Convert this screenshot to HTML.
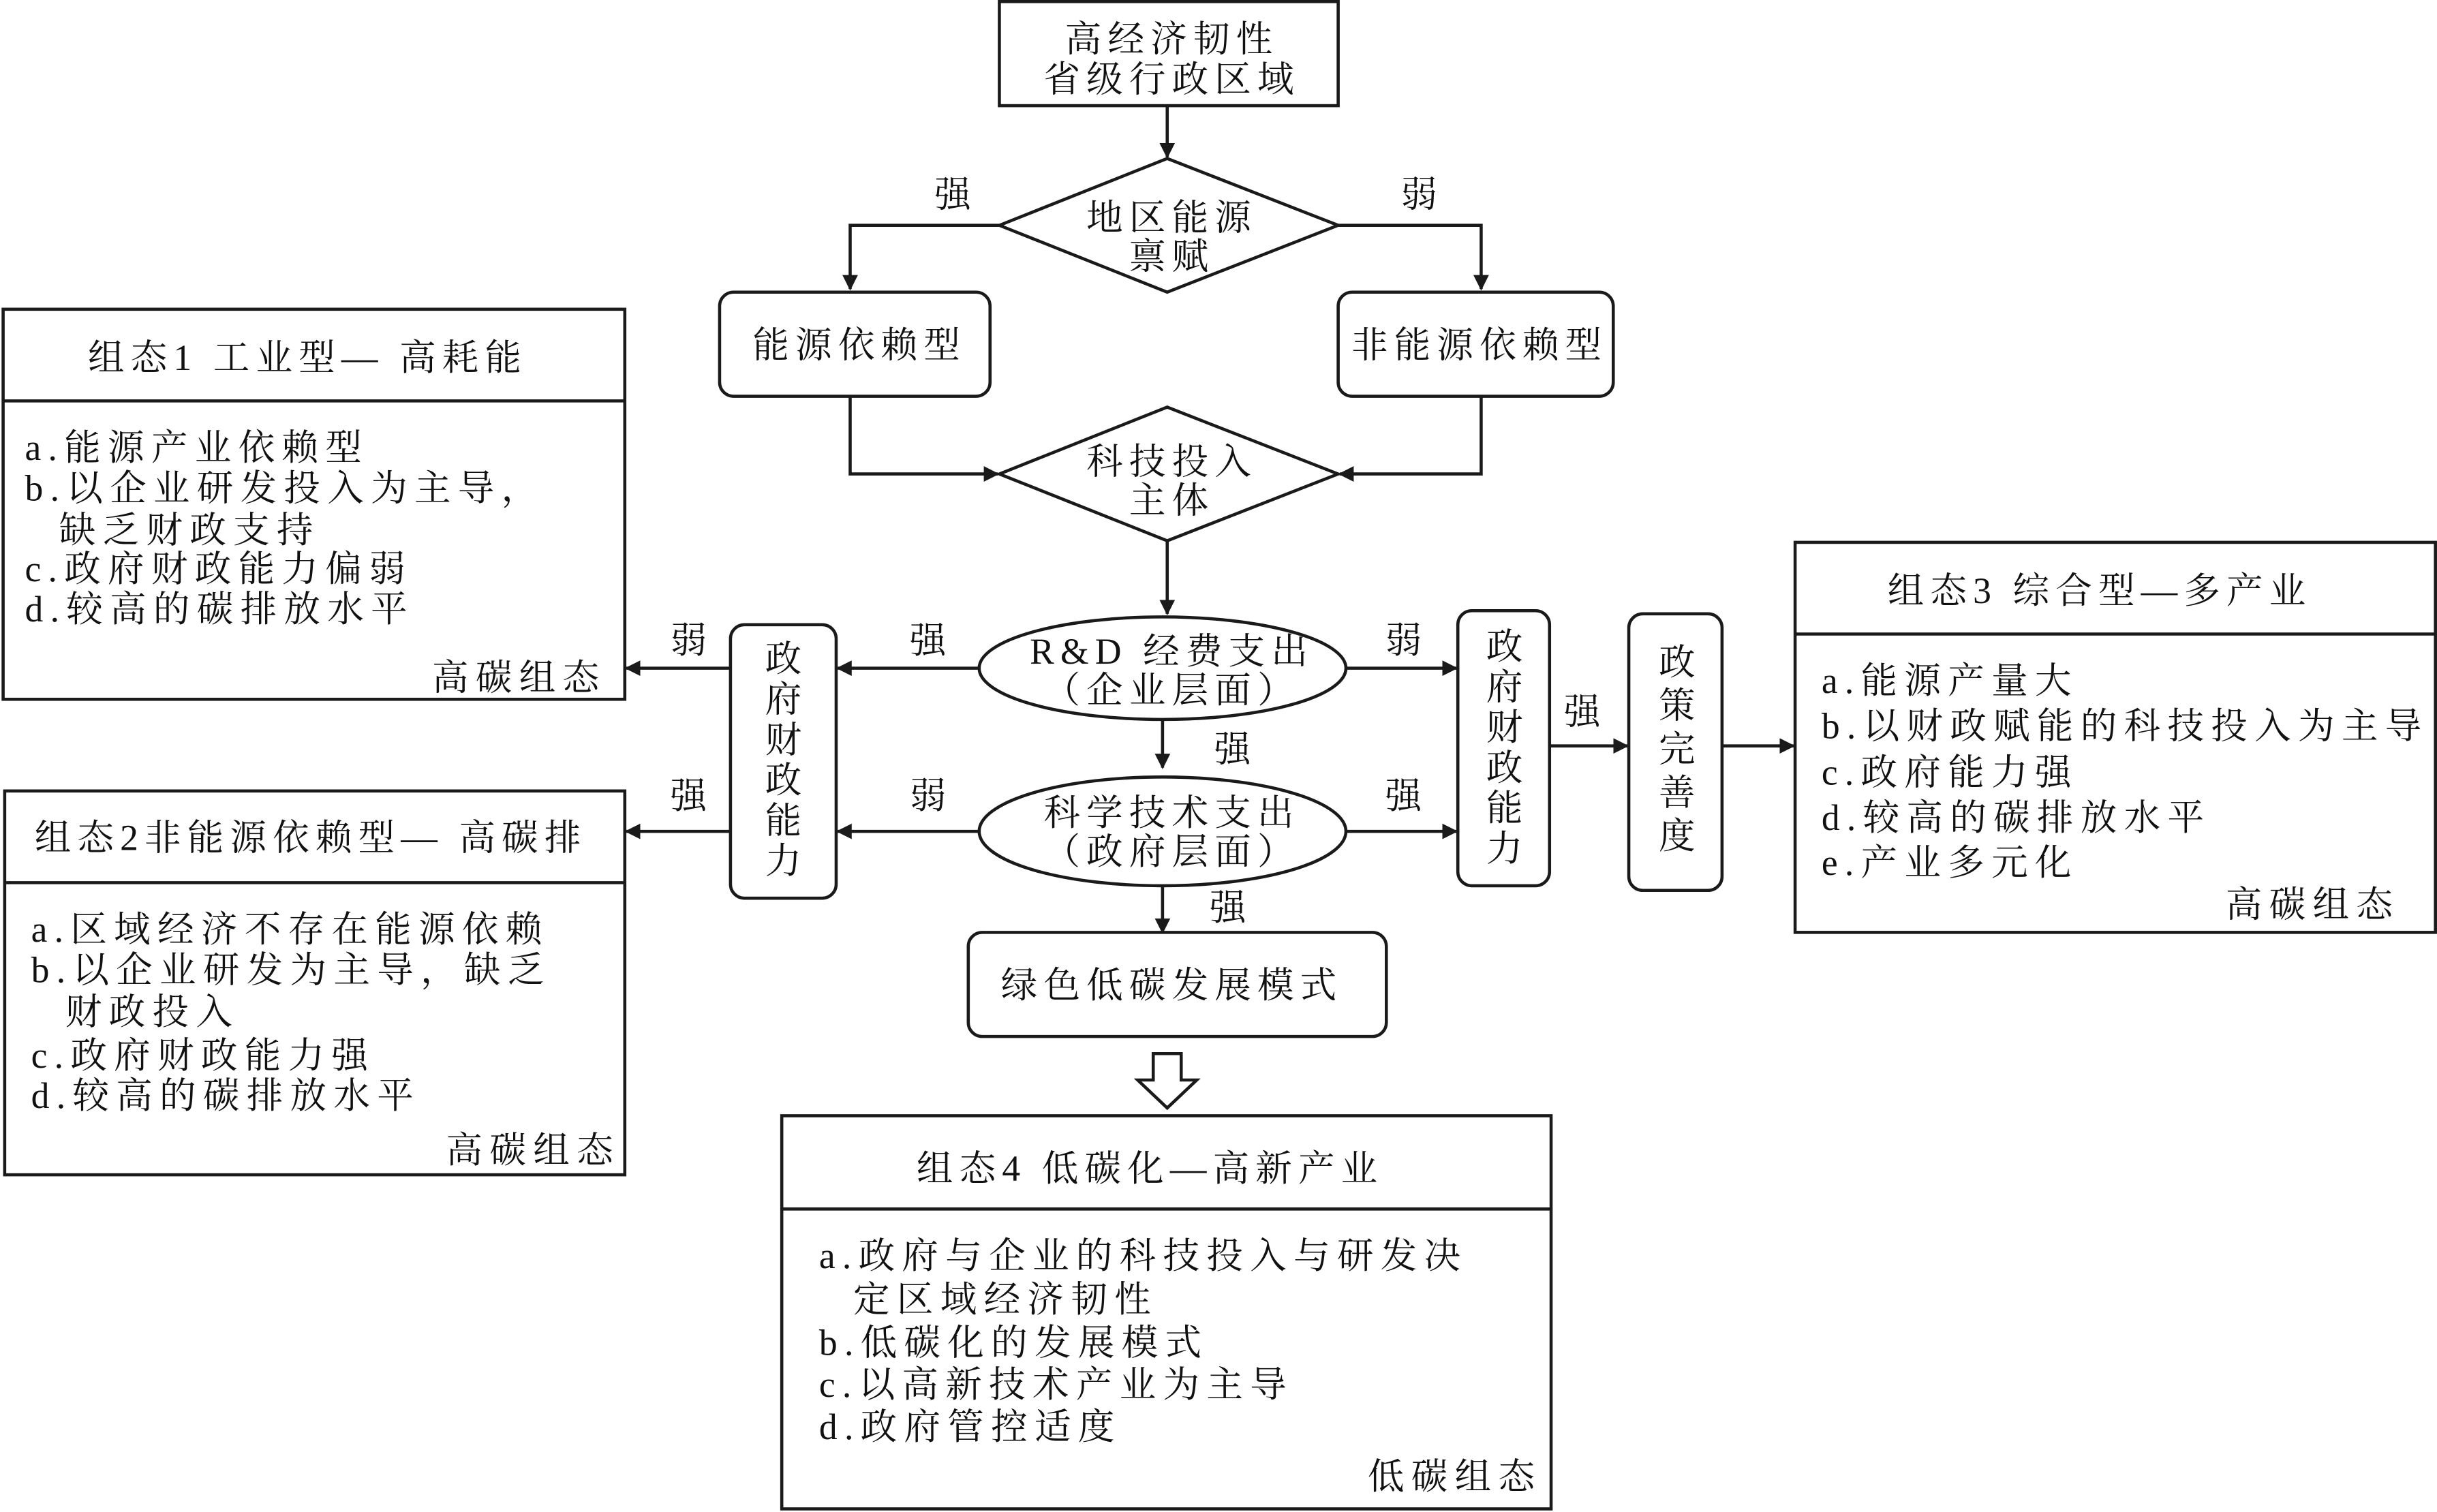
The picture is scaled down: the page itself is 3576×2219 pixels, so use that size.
<!DOCTYPE html>
<html><head><meta charset="utf-8"><style>
html,body{margin:0;padding:0;background:#fff;}
svg{display:block;}
text{font-family:"Liberation Serif","Noto Serif CJK SC",serif;font-size:23.5px;fill:#111;}
.b{fill:none;stroke:#1a1a1a;stroke-width:2;}
</style></head><body>
<svg width="3576" height="2219" viewBox="0 0 1568 973" xmlns="http://www.w3.org/2000/svg">
<defs><marker id="a" markerWidth="10" markerHeight="10" refX="9" refY="5" orient="auto" markerUnits="userSpaceOnUse"><path d="M0,0 L10,5 L0,10 z" fill="#1a1a1a"/></marker></defs>
<g class="b">
<rect x="643" y="1" width="218" height="67"/>
<line x1="751" y1="68" x2="751" y2="101" marker-end="url(#a)"/>
<polygon points="643,145 751,102 861,145 751,188"/>
<polyline points="643,145 547,145 547,186" marker-end="url(#a)"/>
<polyline points="861,145 953,145 953,186" marker-end="url(#a)"/>
<rect x="463" y="188" width="174" height="67" rx="9"/>
<rect x="861" y="188" width="177" height="67" rx="9"/>
<polyline points="547,255 547,305 642,305" marker-end="url(#a)"/>
<polyline points="953,255 953,305 862,305" marker-end="url(#a)"/>
<polygon points="643,305 751,262 861,305 751,348"/>
<line x1="751" y1="348" x2="751" y2="395" marker-end="url(#a)"/>
<ellipse cx="748" cy="430" rx="118" ry="33"/>
<line x1="748" y1="463" x2="748" y2="494" marker-end="url(#a)"/>
<ellipse cx="748" cy="535" rx="118" ry="35"/>
<line x1="748" y1="570" x2="748" y2="600" marker-end="url(#a)"/>
<rect x="623" y="600" width="269" height="67" rx="9"/>
<polygon points="742,678 760,678 760,695 770,695 751,713 732,695 742,695"/>
<rect x="503" y="718" width="495" height="253"/>
<line x1="503" y1="778" x2="998" y2="778"/>
<rect x="470" y="402" width="68" height="176" rx="9"/>
<line x1="630" y1="430" x2="539" y2="430" marker-end="url(#a)"/>
<line x1="630" y1="535" x2="539" y2="535" marker-end="url(#a)"/>
<line x1="470" y1="430" x2="403" y2="430" marker-end="url(#a)"/>
<line x1="470" y1="535" x2="403" y2="535" marker-end="url(#a)"/>
<rect x="938" y="393" width="59" height="177" rx="9"/>
<line x1="866" y1="430" x2="937" y2="430" marker-end="url(#a)"/>
<line x1="866" y1="535" x2="937" y2="535" marker-end="url(#a)"/>
<line x1="997" y1="480" x2="1047" y2="480" marker-end="url(#a)"/>
<rect x="1048" y="395" width="60" height="178" rx="9"/>
<line x1="1108" y1="480" x2="1154" y2="480" marker-end="url(#a)"/>
<rect x="1155" y="349" width="412" height="251"/>
<line x1="1155" y1="408" x2="1567" y2="408"/>
<rect x="2" y="199" width="400" height="251"/>
<line x1="2" y1="258" x2="402" y2="258"/>
<rect x="3" y="509" width="399" height="247"/>
<line x1="3" y1="568" x2="402" y2="568"/>
</g>
<g text-anchor="middle" letter-spacing="4">
<text x="754" y="33">高经济韧性</text>
<text x="754" y="59">省级行政区域</text>
<text x="754" y="148">地区能源</text>
<text x="754" y="173">禀赋</text>
<text x="615" y="133">强</text>
<text x="915" y="133">弱</text>
<text x="553" y="230">能源依赖型</text>
<text x="952" y="230">非能源依赖型</text>
<text x="754" y="305">科技投入</text>
<text x="754" y="330">主体</text>
<text x="754" y="427">R&amp;D 经费支出</text>
<text x="754" y="452">（企业层面）</text>
<text x="754" y="531">科学技术支出</text>
<text x="754" y="556">（政府层面）</text>
<text x="795" y="490">强</text>
<text x="792" y="592">强</text>
<text x="754" y="642">绿色低碳发展模式</text>
<text x="599" y="420">强</text>
<text x="599" y="520">弱</text>
<text x="445" y="420">弱</text>
<text x="445" y="520">强</text>
<text x="905" y="420">弱</text>
<text x="905" y="520">强</text>
<text x="1020" y="466">强</text>
<text x="506" y="432">政</text><text x="506" y="458">府</text><text x="506" y="484">财</text><text x="506" y="510">政</text><text x="506" y="536">能</text><text x="506" y="562">力</text>
<text x="970" y="424">政</text><text x="970" y="450">府</text><text x="970" y="476">财</text><text x="970" y="502">政</text><text x="970" y="528">能</text><text x="970" y="554">力</text>
<text x="1081" y="434">政</text><text x="1081" y="462">策</text><text x="1081" y="490">完</text><text x="1081" y="518">善</text><text x="1081" y="546">度</text>
<text x="198" y="238">组态1 工业型— 高耗能</text>
<text x="200" y="547">组态2非能源依赖型— 高碳排</text>
<text x="1351" y="388">组态3 综合型—多产业</text>
<text x="740" y="760">组态4 低碳化—高新产业</text>
</g>
<g letter-spacing="4.5">
<text x="16" y="296">a.能源产业依赖型</text>
<text x="16" y="322">b.以企业研发投入为主导，</text>
<text x="38" y="349">缺乏财政支持</text>
<text x="16" y="374">c.政府财政能力偏弱</text>
<text x="16" y="400">d.较高的碳排放水平</text>
<text x="278" y="444">高碳组态</text>
<text x="20" y="606">a.区域经济不存在能源依赖</text>
<text x="20" y="632">b.以企业研发为主导，缺乏</text>
<text x="42" y="659">财政投入</text>
<text x="20" y="687">c.政府财政能力强</text>
<text x="20" y="713">d.较高的碳排放水平</text>
<text x="287" y="748">高碳组态</text>
<text x="1172" y="446">a.能源产量大</text>
<text x="1172" y="475">b.以财政赋能的科技投入为主导</text>
<text x="1172" y="505">c.政府能力强</text>
<text x="1172" y="534">d.较高的碳排放水平</text>
<text x="1172" y="563">e.产业多元化</text>
<text x="1432" y="590">高碳组态</text>
<text x="527" y="816">a.政府与企业的科技投入与研发决</text>
<text x="549" y="844">定区域经济韧性</text>
<text x="527" y="872">b.低碳化的发展模式</text>
<text x="527" y="899">c.以高新技术产业为主导</text>
<text x="527" y="926">d.政府管控适度</text>
<text x="880" y="958">低碳组态</text>
</g>
</svg>
</body></html>
